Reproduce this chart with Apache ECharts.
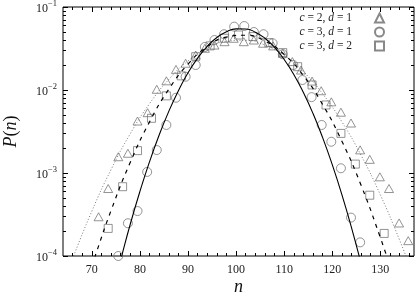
<!DOCTYPE html>
<html><head><meta charset="utf-8">
<script src="https://cdn.jsdelivr.net/npm/echarts@6/dist/echarts.min.js"></script>
<style>html,body{margin:0;padding:0;background:#fff}#c{width:415px;height:293px}</style>
</head><body><div id="c"></div>
<script>
// ---- data ----
// symbols: c = 2, d = 1 (triangles)
const triN = [71.4, 73.4, 75.5, 77.5, 79.5, 81.6, 83.5, 85.5, 87.5, 89.5, 91.6, 93.5, 95.5, 97.6, 99.5, 101.6, 103.7, 105.6, 107.7, 109.7, 111.7, 113.5, 115.8, 117.7, 119.8, 121.8, 123.9, 125.8, 127.8, 129.9, 131.8, 133.9, 135.8];
const triP = [2.97e-4, 6.5e-4, 1.57e-3, 1.73e-3, 4.23e-3, 5.33e-3, 0.0102, 0.0129, 0.0177, 0.021, 0.0264, 0.0318, 0.0348, 0.0382, 0.042, 0.0382, 0.040, 0.0366, 0.034, 0.0277, 0.022, 0.0174, 0.0128, 9.8e-3, 7.2e-3, 5.4e-3, 4.0e-3, 1.9e-3, 1.46e-3, 9.0e-4, 6.5e-4, 2.5e-4, 1.53e-4];
// c = 3, d = 1 (circles)
const cirN = [75.5, 77.5, 79.5, 81.5, 83.5, 85.5, 87.5, 89.5, 91.6, 93.5, 95.5, 97.5, 99.6, 101.7, 103.7, 105.7, 107.6, 109.7, 111.9, 113.8, 115.7, 117.8, 119.8, 121.8, 123.9, 125.8];
const cirP = [1.0e-4, 2.48e-4, 3.48e-4, 1.03e-3, 1.89e-3, 3.79e-3, 8.07e-3, 0.01445, 0.020, 0.033, 0.040, 0.047, 0.058, 0.059, 0.050, 0.047, 0.0366, 0.027, 0.020, 0.0132, 8.2e-3, 3.79e-3, 2.38e-3, 1.14e-3, 2.9e-4, 1.46e-4];
// c = 3, d = 2 (squares)
const sqN = [73.4, 76.4, 79.5, 82.4, 85.5, 88.6, 91.6, 94.6, 97.6, 100.5, 103.5, 106.8, 109.7, 112.8, 115.8, 118.7, 121.8, 124.8, 127.8, 130.8];
const sqP = [2.15e-4, 6.84e-4, 1.86e-3, 4.56e-3, 8.5e-3, 0.0148, 0.0252, 0.034, 0.042, 0.046, 0.044, 0.0372, 0.0282, 0.0191, 0.0115, 6.6e-3, 3.0e-3, 1.28e-3, 5.4e-4, 1.87e-4];
// fitted curves
const solidN = [75.5, 76, 78, 80, 82, 84, 86, 88, 90, 92, 94, 96, 98, 100, 102, 104, 106, 108, 110, 112, 114, 116, 118, 120, 122, 124, 126];
const solidP = [6.97e-5, 9.0e-5, 2.43e-4, 6.0e-4, 1.37e-3, 2.87e-3, 5.53e-3, 9.8e-3, 0.0161, 0.0242, 0.0336, 0.0429, 0.0504, 0.0545, 0.0543, 0.0498, 0.042, 0.0326, 0.0233, 0.0154, 9.3e-3, 5.2e-3, 2.67e-3, 1.26e-3, 5.5e-4, 2.2e-4, 8.1e-5];
const dashN = [70, 71, 74, 78, 82, 86, 90, 94, 98, 102, 106, 110, 114, 118, 122, 126, 130, 132];
const dashP = [7.5e-5, 1.13e-4, 3.54e-4, 1.35e-3, 4.13e-3, 0.0102, 0.0205, 0.0332, 0.0434, 0.0457, 0.0389, 0.0268, 0.0149, 6.68e-3, 2.42e-3, 7.1e-4, 1.67e-4, 7.5e-5];
const dotN = [66, 70, 74, 78, 82, 86, 90, 94, 98, 102, 106, 110, 114, 118, 122, 126, 130, 134, 136];
const dotP = [9.3e-5, 3.47e-4, 1.10e-3, 2.98e-3, 6.85e-3, 0.0134, 0.0224, 0.0318, 0.0385, 0.0397, 0.0348, 0.0260, 0.0166, 8.98e-3, 4.14e-3, 1.63e-3, 5.46e-4, 1.56e-4, 7.8e-5];
const seriesNames = ['c = 2, d = 1', 'c = 3, d = 1', 'c = 3, d = 2'];
const xTicks = [70, 80, 90, 100, 110, 120, 130];

// ---- chart ----
const FONT = '"Liberation Serif", "DejaVu Serif", serif';
const xMin = 64, xMax = 137;
const zip = (a, b) => a.map((v, i) => [v, b[i]]);
const xMinor = [];
for (let v = 66; v <= 136; v += 2) if (v % 10 !== 0) xMinor.push(v);
const yMinorLog = [];
for (let e = -4; e < -1; e++) for (let k = 2; k <= 9; k++) yMinorLog.push(Math.log10(k * Math.pow(10, e)));

function xAx(pos, vals, len, labels, extra) {
  return Object.assign({
    type: 'value', position: pos, min: xMin, max: xMax,
    axisLine: { show: false, onZero: false }, splitLine: { show: false },
    axisTick: { show: true, inside: true, length: len, customValues: vals, lineStyle: { color: '#000', width: 1 } },
    axisLabel: { show: labels, customValues: vals, margin: 8, fontFamily: FONT, fontSize: 12, color: '#222' }
  }, extra || {});
}
function yMinorAx(pos) {
  return {
    type: 'value', position: pos, min: -4, max: -1,
    axisLine: { show: false, onZero: false }, splitLine: { show: false },
    axisTick: { show: true, inside: true, length: 3, customValues: yMinorLog, lineStyle: { color: '#000', width: 1 } },
    axisLabel: { show: false, customValues: yMinorLog }
  };
}
function yMajorAx(pos, labels, extra) {
  return Object.assign({
    type: 'log', logBase: 10, position: pos, min: 1e-4, max: 1e-1,
    axisLine: { show: false, onZero: false }, splitLine: { show: false },
    axisTick: { show: true, inside: true, length: 5, lineStyle: { color: '#000', width: 1 } },
    axisLabel: {
      show: labels, margin: 6, fontFamily: FONT, color: '#222',
      formatter: v => '{b|10}{s|\u2212' + Math.round(-Math.log10(v)) + '}',
      rich: {
        b: { fontFamily: FONT, fontSize: 12, lineHeight: 16, verticalAlign: 'bottom', color: '#222' },
        s: { fontFamily: FONT, fontSize: 8.5, lineHeight: 10, verticalAlign: 'top', color: '#222' }
      }
    }
  }, extra || {});
}

const symStyle = { color: 'transparent', borderColor: '#6a6a6a', borderWidth: 0.9 };
const option = {
  animation: false,
  backgroundColor: '#fff',
  grid: { left: 63, right: 1, top: 7, bottom: 37, outerBoundsMode: 'none', containLabel: false,
          show: true, borderColor: '#000', borderWidth: 1, backgroundColor: 'transparent' },
  legend: {
    data: seriesNames, orient: 'vertical', align: 'right', right: 25, top: 7,
    itemWidth: 9, itemHeight: 9, itemGap: 2,
    formatter: name => name.replace(/([cd])/g, '{i|$1}') + '{sp| }',
    textStyle: {
      fontFamily: FONT, fontSize: 11.5, color: '#222',
      rich: { i: { fontFamily: FONT, fontStyle: 'italic', fontSize: 11.5, color: '#222' }, sp: { width: 18 } }
    }
  },
  xAxis: [
    xAx('bottom', xTicks, 5, true, {
      name: 'n', nameLocation: 'middle', nameGap: 22, nameMoveOverlap: false,
      nameTextStyle: { fontFamily: FONT, fontStyle: 'italic', fontSize: 18, color: '#111' }
    }),
    xAx('bottom', xMinor, 3, false),
    xAx('top', xTicks, 5, false),
    xAx('top', xMinor, 3, false)
  ],
  yAxis: [
    yMajorAx('left', true, {
      name: '{i|P}({i|n})', nameLocation: 'middle', nameGap: 43, nameRotate: 90, nameMoveOverlap: false,
      nameTextStyle: { fontFamily: FONT, fontSize: 18, color: '#111',
        rich: { i: { fontFamily: FONT, fontStyle: 'italic', fontSize: 18, color: '#111' } } }
    }),
    yMajorAx('right', false),
    yMinorAx('left'),
    yMinorAx('right')
  ],
  series: [
    { type: 'line', data: zip(dotN, dotP), smooth: true, showSymbol: false, silent: true, clip: true,
      lineStyle: { color: '#555', width: 0.8, type: [1, 2] } },
    { type: 'line', data: zip(dashN, dashP), smooth: true, showSymbol: false, silent: true, clip: true,
      lineStyle: { color: '#000', width: 1.2, type: [4, 5] } },
    { type: 'line', data: zip(solidN, solidP), smooth: true, showSymbol: false, silent: true, clip: true,
      lineStyle: { color: '#000', width: 1.1 } },
    { name: seriesNames[0], type: 'scatter', data: zip(triN, triP), symbol: 'triangle', symbolSize: [9, 8], itemStyle: symStyle },
    { name: seriesNames[1], type: 'scatter', data: zip(cirN, cirP), symbol: 'circle', symbolSize: 9, itemStyle: symStyle },
    { name: seriesNames[2], type: 'scatter', data: zip(sqN, sqP), symbol: 'rect', symbolSize: 8, itemStyle: symStyle }
  ]
};
const chart = echarts.init(document.getElementById('c'), null, { renderer: 'canvas' });
chart.setOption(option);
</script>
</body></html>
